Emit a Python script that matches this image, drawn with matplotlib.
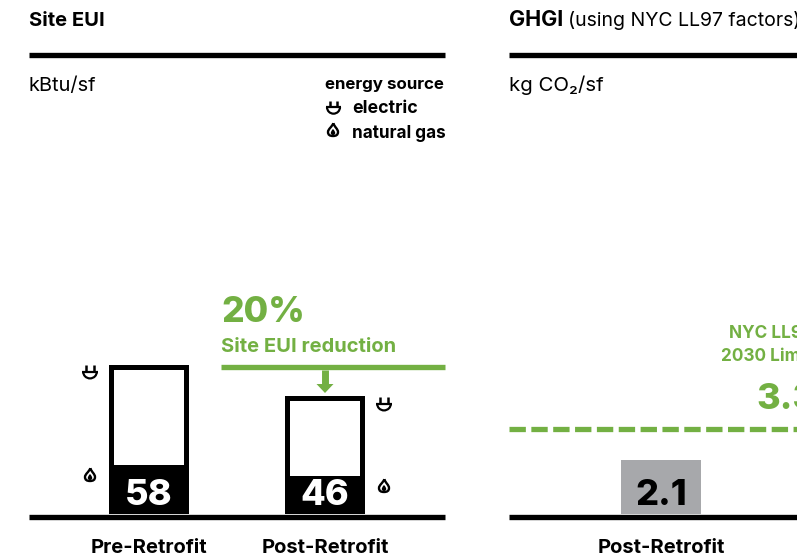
import matplotlib
matplotlib.use("Agg")
import matplotlib.pyplot as plt
from matplotlib.path import Path
from matplotlib.patches import PathPatch, Polygon, Wedge

# Data
eui_labels = ["Pre-Retrofit", "Post-Retrofit"]
eui_total = [58, 46]
eui_gas = [19, 14.8]
ghgi_labels = ["Post-Retrofit"]
ghgi_values = [2.1]
ll97_limit = 3.3

W, H = 797, 558
GREEN = "#73B043"
GREY = "#A7A8AB"
plt.rcParams["font.family"] = ["Inter", "DejaVu Sans"]

fig = plt.figure(figsize=(W / 100, H / 100), dpi=100, facecolor="white")

def px_axes(x0, x1, y0, y1):
    return fig.add_axes([x0 / W, 1 - y1 / H, (x1 - x0) / W, (y1 - y0) / H])

base = 514
ov = fig.add_axes([0, 0, 1, 1], zorder=5)
ov.set_xlim(0, W); ov.set_ylim(H, 0); ov.axis("off"); ov.patch.set_alpha(0)

ax1 = px_axes(29, 445, 0, base)
ax1.set_xlim(29, 445); ax1.set_ylim(0, base / 2.57)
ax2 = px_axes(509, 797, 0, base)
ax2.set_xlim(509, 797); ax2.set_ylim(0, base / 25.8)
for a in (ax1, ax2):
    a.axis("off")

eui_x = [148.6, 324.6]
bw = 80
border_px = 5
lw = border_px * 0.72
ax1.bar(eui_x, eui_gas, width=bw, color="black", zorder=3)
for x, t in zip(eui_x, eui_total):
    ax1.bar(x, t - border_px / 2 / 2.57, width=bw - border_px, color="none",
            edgecolor="black", linewidth=lw, zorder=3, joinstyle="miter")
for x, v in zip(eui_x, eui_total):
    ax1.text(x + 0.4, 3.5, str(v), ha="center", va="baseline", color="white",
             fontsize=26, fontweight="heavy", zorder=4)

ghgi_x = [661]
ax2.bar(ghgi_x, ghgi_values, width=bw, color=GREY, zorder=3)
ax2.text(ghgi_x[0], 0.35, str(ghgi_values[0]), ha="center", va="baseline",
         color="black", fontsize=26, fontweight="heavy", zorder=4)
ax2.plot([509, 797], [ll97_limit, ll97_limit], color=GREEN, lw=3.8,
         dashes=(3.1, 1.04), dash_capstyle="butt", solid_capstyle="butt", zorder=2)

# Rules
for x0, x1, y in [(29, 445, 55), (29, 445, 516.7), (509, 797, 55), (509, 797, 516.7)]:
    ov.plot([x0, x1], [y, y], color="black", lw=3.85, solid_capstyle="butt")
ov.plot([221, 445], [367.2, 367.2], color=GREEN, lw=3.85, solid_capstyle="butt")
ov.plot([325, 325], [370, 385], color=GREEN, lw=5, solid_capstyle="butt")
ov.add_patch(Polygon([(316.5, 384), (333.5, 384), (325, 393)], closed=True, color=GREEN, lw=0))

def T(x, y, s, size=13, weight="normal", color="black", ha="left"):
    return ov.text(x, y, s, fontsize=size, fontweight=weight, color=color, ha=ha, va="baseline")

T(29, 26, "Site EUI", 14.5, "bold")
T(509, 26, "GHGI", 15.5, "bold")
T(568, 26, "(using NYC LL97 factors)", 14)
T(29, 91, "kBtu/sf", 14.4)
T(509, 91, "kg CO₂/sf", 14.7)
T(325, 89, "energy source", 12.2, "bold")
T(352, 113, "electric", 12.8, "bold")
T(352, 137.5, "natural gas", 12.3, "bold")
T(221, 321.5, "20%", 25.6, "heavy", GREEN)
T(221, 352, "Site EUI reduction", 14.5, "bold", GREEN)
T(729, 338, "NYC LL97", 12.4, "bold", GREEN)
T(721, 361, "2030 Limit", 12.4, "bold", GREEN)
T(756, 409, "3.3", 26, "heavy", GREEN)
T(149, 553, eui_labels[0], 14.5, "bold", ha="center")
T(325, 553, eui_labels[1], 14.5, "bold", ha="center")
T(661, 553, ghgi_labels[0], 14.5, "bold", ha="center")

def plug(cx, top, s=1.0):
    # bar of the bowl sits 6*s below the prong tops
    y = top + 6.5 * s
    r = 8 * s
    ov.add_patch(Wedge((cx, y), r, 0, 180, width=2.2, color="black", lw=0))
    ov.plot([cx - r, cx + r], [y, y], color="black", lw=1.6, solid_capstyle="butt")
    for dx in (-3.6 * s, 3.6 * s):
        ov.plot([cx + dx, cx + dx], [top, y], color="black", lw=1.8, solid_capstyle="butt")

def flame(cx, cy):
    top = (cx + 0.3, cy - 6.8)
    verts = [top, (cx - 1, cy - 3), (cx - 5, cy - 1), (cx - 5, cy + 2),
             (cx - 5, cy + 5), (cx - 3, cy + 6), (cx, cy + 6),
             (cx + 3, cy + 6), (cx + 5, cy + 5), (cx + 5, cy + 2),
             (cx + 5, cy - 1), (cx + 1.5, cy - 3), top]
    codes = [Path.MOVETO] + [Path.CURVE4] * 12
    ov.add_patch(PathPatch(Path(verts, codes), fc="white", ec="black", lw=1.7))
    inner = [(cx, cy - 1), (cx - 3, cy + 2), (cx - 3, cy + 5), (cx, cy + 5),
             (cx + 3, cy + 5), (cx + 3, cy + 2), (cx, cy - 1)]
    ov.add_patch(PathPatch(Path(inner, [Path.MOVETO] + [Path.CURVE4] * 6), fc="black", ec="none"))

plug(333.5, 101, 0.95)
plug(90, 365)
plug(384, 397)
for cx, cy in [(333, 130), (90, 475), (384, 486)]:
    flame(cx, cy)

fig.savefig("out.png", dpi=100, facecolor="white")
